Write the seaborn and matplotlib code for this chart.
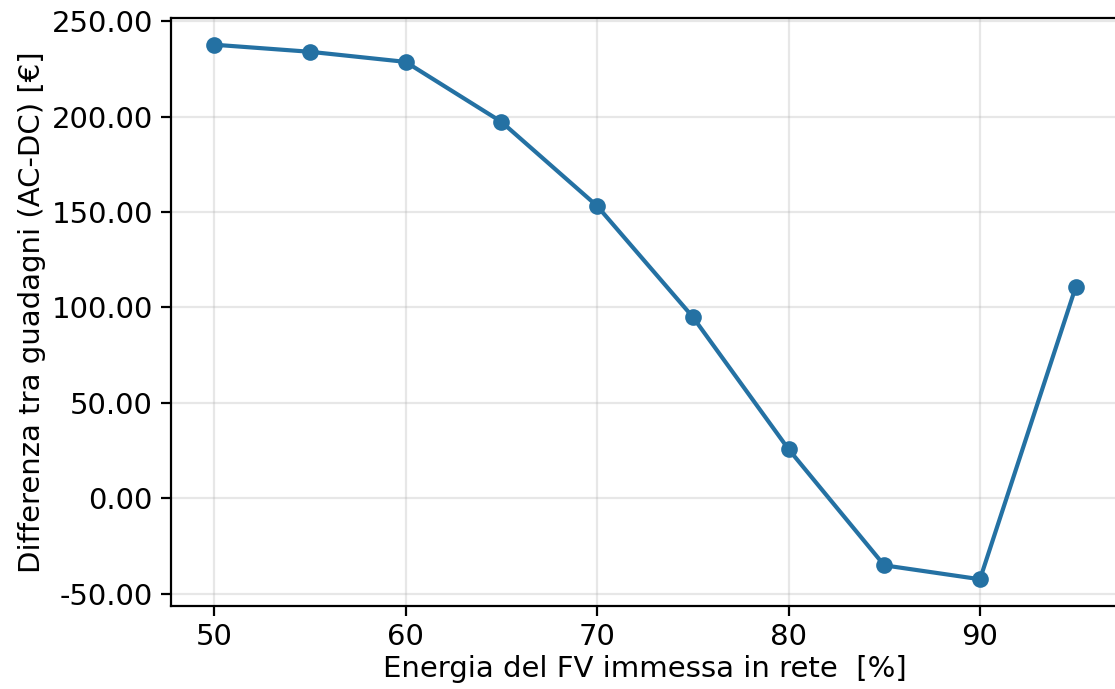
import matplotlib
matplotlib.use("Agg")
import matplotlib.pyplot as plt
import matplotlib.ticker as mticker
import seaborn as sns
import pandas as pd

# Share of PV energy fed into the grid [%] and AC-DC earnings difference [€]
energia_immessa = [50, 55, 60, 65, 70, 75, 80, 85, 90, 95]
differenza_guadagni = [237.7, 234.0, 228.7, 197.3, 153.2, 95.0, 25.7, -35.2, -42.5, 110.7]

df = pd.DataFrame({"x": energia_immessa, "y": differenza_guadagni})

plt.rcParams["font.family"] = ["DejaVu Sans"]
plt.rcParams["font.size"] = 10.5

fig = plt.figure(figsize=(5.575, 3.445), dpi=200)
ax = fig.add_axes([0.1534, 0.1205, 0.850, 0.8534])

sns.lineplot(data=df, x="x", y="y", ax=ax, color="#2471a3", linewidth=1.5,
             marker="o", markersize=6, markeredgecolor="#2471a3",
             markeredgewidth=0)

ax.grid(True, color="#b0b0b0", alpha=0.3, linewidth=0.8)
ax.set_axisbelow(True)
ax.tick_params(axis="x", pad=2.5)
ax.tick_params(axis="y", pad=3.0)
ax.yaxis.set_major_formatter(mticker.FormatStrFormatter("%.2f"))
ax.set_xlabel("Energia del FV immessa in rete  [%]", labelpad=1.5)
ax.set_ylabel("Differenza tra guadagni (AC-DC) [€]", labelpad=2.0)

fig.savefig("out.png", dpi=200)
